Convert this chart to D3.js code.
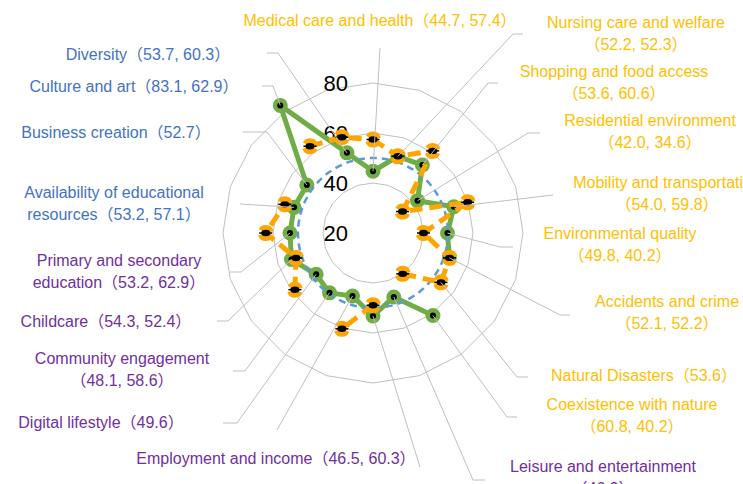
<!DOCTYPE html>
<html>
<head>
<meta charset="utf-8">
<script src="https://cdn.jsdelivr.net/npm/d3@7"></script>
<style>
  body { margin: 0; background: #fff; }
  svg { display: block; font-family: "Liberation Sans", Arial, "Noto Sans CJK JP", sans-serif; }
</style>
</head>
<body>
<div id="chart"></div>
<script>
// categories clockwise from the top (index 10 has its label below the visible area)
var categories = [
    "Medical care and health", "Nursing care and welfare", "Shopping and food access",
    "Residential environment", "Mobility and transportation", "Environmental quality",
    "Accidents and crime", "Natural Disasters", "Coexistence with nature",
    "Leisure and entertainment", "", "Employment and income", "Digital lifestyle",
    "Community engagement", "Childcare", "Primary and secondary education",
    "Availability of educational resources", "Business creation", "Culture and art", "Diversity"
];
// green series (first value in the labels)
var scoreGreen = [44.7, 52.2, 53.6, 42.0, 54.0, 49.8, 52.1, null, 60.8, 46.9,
                  53.2, 46.5, 49.6, 48.1, 54.3, 53.2, 53.2, 52.7, 83.1, 53.7];
// orange series (second value in the labels)
var scoreOrange = [57.4, 52.3, 60.6, 34.6, 59.8, 40.2, 52.2, 53.6, 40.2, null,
                   48.9, 60.3, null, 58.6, 52.4, 62.9, 57.1, null, 62.9, 60.3];
// reference ring (national average = 50)
var average = [50, 50, 50, 50, 50, 50, 50, 50, 50, 50,
               50, 50, 50, 50, 50, 50, 50, 50, 50, 50];
var tickValues = [20, 40, 60, 80];
var gridLevels = [40, 60, 80];

// label placement, as dragged by hand in the original chart
// wrap: 0 one line, "p" break before the values, n = break after n words
var labelLayout = [
    { x: 380, y: 26,  wrap: 0,   c: "gold",   ex: 380, ey: 48,  hx: null },
    { x: 636, y: 28,  wrap: "p", c: "gold",   ex: 513, ey: 34,  hx: 523 },
    { x: 614, y: 77,  wrap: "p", c: "gold",   ex: 488, ey: 83,  hx: 498 },
    { x: 650, y: 126, wrap: "p", c: "gold",   ex: 528, ey: 133, hx: 540 },
    { x: 667, y: 188, wrap: "p", c: "gold",   ex: 553, ey: 195, hx: null },
    { x: 620, y: 239, wrap: "p", c: "gold",   ex: 500, ey: 247, hx: 513 },
    { x: 667, y: 307, wrap: "p", c: "gold",   ex: 560, ey: 315, hx: 570 },
    { x: 644, y: 381, wrap: 0,   c: "gold",   ex: 517, ey: 377, hx: 528 },
    { x: 632, y: 410, wrap: "p", c: "gold",   ex: 507, ey: 417, hx: 517 },
    { x: 603, y: 472, wrap: "p", c: "purple", ex: 473, ey: 480, hx: 485 },
    { x: 420, y: 500, wrap: 0,   c: "purple", ex: 420, ey: 467, hx: null },
    { x: 276, y: 464, wrap: 0,   c: "purple", ex: 277, ey: 430, hx: null },
    { x: 101, y: 428, wrap: 0,   c: "purple", ex: 237, ey: 423, hx: 223 },
    { x: 122, y: 364, wrap: "p", c: "purple", ex: 245, ey: 371, hx: 233 },
    { x: 106, y: 327, wrap: 0,   c: "purple", ex: 228, ey: 321, hx: 217 },
    { x: 119, y: 266, wrap: 3,   c: "purple", ex: 241, ey: 272, hx: 230 },
    { x: 114, y: 198, wrap: 3,   c: "blue",   ex: 240, ey: 204, hx: null },
    { x: 116, y: 138, wrap: 0,   c: "blue",   ex: 267, ey: 132, hx: 243 },
    { x: 134, y: 92,  wrap: 0,   c: "blue",   ex: 273, ey: 86,  hx: 262 },
    { x: 148, y: 60,  wrap: 0,   c: "blue",   ex: 278, ey: 53,  hx: 267 }
];
var labelColors = { gold: "#FFC000", purple: "#7030A0", blue: "#4472C4" };

var width = 743, height = 484,
    cx = 373, cy = 233;

var svg = d3.select("#chart")
    .append("svg")
    .attr("width", width)
    .attr("height", height);

var g = svg.append("g")
    .attr("transform", "translate(" + cx + "," + cy + ")");

var angle = d3.scaleLinear()
    .domain([0, categories.length])
    .range([0, 2 * Math.PI]);

var r = d3.scaleLinear()
    .domain([20, 80])
    .range([0, 150]);

// grid polygons
gridLevels.forEach(function(level) {
    g.append("path")
        .datum(categories)
        .attr("fill", "none")
        .attr("stroke", "#BFBFBF")
        .attr("stroke-width", 1)
        .attr("d", d3.lineRadial()
            .angle(function(d, i) { return angle(i); })
            .radius(r(level))
            .curve(d3.curveLinearClosed));
});

// axis tick labels
g.selectAll(".tick")
    .data(tickValues)
    .enter()
    .append("text")
    .attr("x", -25)
    .attr("y", function(d) { return -r(d); })
    .attr("dy", "0.36em")
    .attr("text-anchor", "end")
    .style("font-size", "22px")
    .attr("fill", "#000")
    .text(function(d) { return d; });

function ring(values) {
    var pts = values.map(function(v, i) { return { v: v, i: i }; });
    pts.push({ v: values[0], i: values.length });
    return pts;
}

var seriesLine = d3.lineRadial()
    .defined(function(d) { return d.v != null; })
    .angle(function(d) { return angle(d.i); })
    .radius(function(d) { return r(d.v); });

function points(values) {
    return values.map(function(v, i) { return { v: v, i: i }; })
        .filter(function(d) { return d.v != null; });
}

function pos(d) { return d3.pointRadial(angle(d.i), r(d.v)); }

// green series
g.append("path")
    .datum(ring(scoreGreen))
    .attr("fill", "none")
    .attr("stroke", "#70AD47")
    .attr("stroke-width", 5)
    .attr("stroke-linejoin", "round")
    .attr("d", seriesLine);

g.selectAll(".gdot")
    .data(points(scoreGreen))
    .enter()
    .append("circle")
    .attr("cx", function(d) { return pos(d)[0]; })
    .attr("cy", function(d) { return pos(d)[1]; })
    .attr("r", 7.5)
    .attr("fill", "#70AD47");

// national average ring
g.append("path")
    .datum(average.map(function(v, i) { return { v: v, i: i }; }))
    .attr("fill", "none")
    .attr("stroke", "#5B9BD5")
    .attr("stroke-width", 2.5)
    .attr("stroke-dasharray", "7,5")
    .attr("d", d3.lineRadial()
        .angle(function(d) { return angle(d.i); })
        .radius(function(d) { return r(d.v); })
        .curve(d3.curveCatmullRomClosed));

g.selectAll(".gcore")
    .data(points(scoreGreen))
    .enter()
    .append("circle")
    .attr("cx", function(d) { return pos(d)[0]; })
    .attr("cy", function(d) { return pos(d)[1]; })
    .attr("r", 3)
    .attr("fill", "#000");

// orange series
g.append("path")
    .datum(ring(scoreOrange))
    .attr("fill", "none")
    .attr("stroke", "#FFA500")
    .attr("stroke-width", 5)
    .attr("stroke-dasharray", "13,7")
    .attr("d", seriesLine);

g.selectAll(".odot")
    .data(points(scoreOrange))
    .enter()
    .append("circle")
    .attr("cx", function(d) { return pos(d)[0]; })
    .attr("cy", function(d) { return pos(d)[1]; })
    .attr("r", 5.5)
    .attr("fill", "none")
    .attr("stroke", "#FFA500")
    .attr("stroke-width", 5)
    .attr("stroke-dasharray", "12.8,4.5")
    .attr("stroke-dashoffset", 15.05);

g.selectAll(".ocore")
    .data(points(scoreOrange))
    .enter()
    .append("ellipse")
    .attr("cx", function(d) { return pos(d)[0]; })
    .attr("cy", function(d) { return pos(d)[1]; })
    .attr("rx", 4.5)
    .attr("ry", 3.2)
    .attr("fill", "#000");

g.selectAll(".obar")
    .data(points(scoreOrange))
    .enter()
    .append("line")
    .attr("x1", function(d) { return pos(d)[0] - 6.5; })
    .attr("x2", function(d) { return pos(d)[0] + 6.5; })
    .attr("y1", function(d) { return pos(d)[1]; })
    .attr("y2", function(d) { return pos(d)[1]; })
    .attr("stroke", "#000")
    .attr("stroke-width", 1.5);

// leader lines from each point to its label
categories.forEach(function(name, i) {
    var v = scoreGreen[i] != null ? scoreGreen[i] : scoreOrange[i];
    var p = pos({ v: v, i: i });
    var L = labelLayout[i];
    var d = "M" + (p[0] + cx) + "," + (p[1] + cy) + "L" + L.ex + "," + L.ey;
    if (L.hx != null) d += "L" + L.hx + "," + L.ey;
    svg.append("path")
        .attr("d", d)
        .attr("fill", "none")
        .attr("stroke", "#BFBFBF")
        .attr("stroke-width", 1);
});

// data labels
categories.forEach(function(name, i) {
    if (!name) return;
    var L = labelLayout[i];
    var vals = [scoreGreen[i], scoreOrange[i]]
        .filter(function(v) { return v != null; })
        .map(function(v) { return v.toFixed(1); });
    var tail = "（" + vals.join(", ") + "）";
    var lines;
    if (L.wrap === "p") {
        lines = [name, tail];
    } else if (L.wrap > 0) {
        var words = name.split(" ");
        lines = [words.slice(0, L.wrap).join(" "), words.slice(L.wrap).join(" ") + tail];
    } else {
        lines = [name + tail];
    }
    var t = svg.append("text")
        .attr("text-anchor", "middle")
        .attr("fill", labelColors[L.c])
        .style("font-size", "16px");
    lines.forEach(function(s, k) {
        t.append("tspan")
            .attr("x", L.x)
            .attr("y", L.y + k * 22)
            .text(s);
    });
});
</script>
</body>
</html>
